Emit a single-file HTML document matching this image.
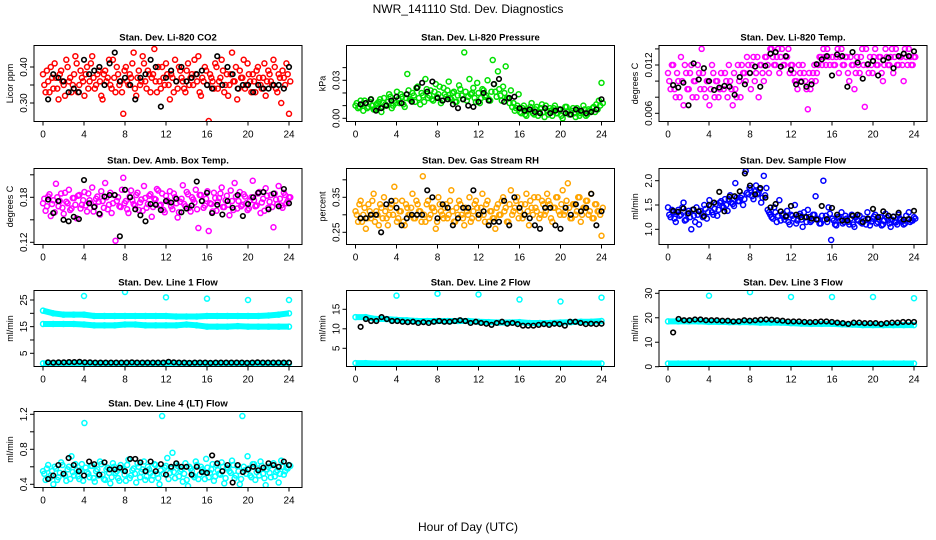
<!DOCTYPE html>
<html><head><meta charset="utf-8"><style>
body{margin:0;background:#fff}
svg{display:block;font-family:"Liberation Sans",sans-serif}
</style></head><body>
<svg id="c" width="936" height="540" viewBox="0 0 936 540">
<text x="468" y="13" font-size="12" text-anchor="middle">NWR_141110  Std. Dev. Diagnostics</text>
<text x="468" y="531" font-size="12" text-anchor="middle">Hour of Day (UTC)</text>
</svg>
<script>
const xTicks=[0,4,8,12,16,20,24];
const co2Vals=[0.38,0.33,0.36,0.40,0.34,0.37,0.31,0.39,0.35,0.42,0.36,0.33,0.38,0.41,0.35,0.37,0.32,0.40,0.36,0.43,0.34,0.38,0.36,0.31,0.39,0.37,0.35,0.42,0.33,0.38,0.36,0.27,0.40,0.35,0.37,0.44,0.32,0.39,0.36,0.41,0.34,0.38,0.37,0.45,0.33,0.36,0.40,0.35,0.38,0.31,0.37,0.42,0.34,0.39,0.36,0.33,0.41,0.37,0.35,0.38,0.43,0.32,0.36,0.39,0.25,0.37,0.34,0.40,0.36,0.42,0.33,0.38,0.35,0.44,0.36,0.31,0.39,0.37,0.34,0.41,0.36,0.38,0.33,0.40,0.35,0.37,0.32,0.39,0.36,0.42,0.34,0.38,0.30,0.37,0.41,0.27];
const co2ValsB=[0.35,0.39,0.33,0.37,0.41,0.34,0.38,0.36,0.32,0.40,0.37,0.35,0.43,0.33,0.39,0.36,0.38,0.34,0.41,0.37,0.35,0.39,0.32,0.38,0.36,0.42,0.34,0.37,0.40,0.35,0.33,0.39,0.36,0.38,0.41,0.34,0.37,0.35,0.43,0.36,0.39,0.33,0.38,0.36,0.40,0.34,0.37,0.41,0.35,0.38,0.33,0.36,0.40,0.37,0.34,0.39,0.35,0.38,0.42,0.36,0.33,0.37,0.40,0.35,0.38,0.36,0.41,0.34,0.37,0.39,0.35,0.32,0.38,0.36,0.40,0.34,0.37,0.42,0.35,0.38,0.33,0.36,0.39,0.37,0.34,0.41,0.36,0.38,0.35,0.40,0.33,0.37,0.39,0.35,0.38,0.36];
const co2Black=[0.31,0.38,0.37,0.36,0.33,0.34,0.33,0.42,0.38,0.39,0.40,0.35,0.41,0.44,0.36,0.37,0.35,0.31,0.37,0.38,0.42,0.40,0.29,0.37,0.39,0.36,0.40,0.36,0.37,0.38,0.39,0.35,0.34,0.43,0.35,0.40,0.38,0.34,0.35,0.35,0.33,0.35,0.34,0.34,0.35,0.35,0.34,0.40];
const presVals=[0.010,0.008,0.014,0.006,0.012,0.009,0.015,0.007,0.011,0.013,0.005,0.016,0.010,0.019,0.008,0.014,0.021,0.012,0.017,0.009,0.035,0.015,0.020,0.013,0.025,0.011,0.018,0.031,0.016,0.022,0.014,0.027,0.019,0.012,0.024,0.017,0.029,0.015,0.021,0.013,0.026,0.018,0.052,0.014,0.031,0.020,0.016,0.028,0.012,0.023,0.017,0.030,0.014,0.046,0.021,0.037,0.018,0.025,0.041,0.016,0.022,0.012,0.008,0.019,0.004,0.010,0.002,0.007,0.012,0.003,0.009,0.005,0.011,0.001,0.006,0.008,0.002,0.010,0.004,0.007,0.000,0.009,0.005,0.003,0.008,0.001,0.006,0.004,0.010,0.002,0.007,0.005,0.009,0.011,0.014,0.028];
const presValsB=[0.012,0.009,0.011,0.014,0.008,0.013,0.010,0.007,0.012,0.015,0.009,0.011,0.013,0.017,0.010,0.012,0.015,0.019,0.011,0.016,0.022,0.014,0.018,0.024,0.016,0.020,0.013,0.023,0.018,0.015,0.021,0.017,0.025,0.014,0.019,0.022,0.016,0.020,0.013,0.018,0.023,0.015,0.021,0.017,0.019,0.024,0.013,0.020,0.016,0.022,0.018,0.015,0.021,0.027,0.017,0.023,0.014,0.020,0.016,0.012,0.009,0.006,0.010,0.005,0.008,0.003,0.006,0.009,0.004,0.007,0.002,0.008,0.005,0.010,0.003,0.006,0.008,0.004,0.007,0.002,0.005,0.009,0.003,0.006,0.004,0.008,0.002,0.005,0.007,0.003,0.006,0.008,0.005,0.007,0.010,0.012];
const presBlack=[0.011,0.012,0.015,0.006,0.008,0.010,0.014,0.017,0.012,0.019,0.013,0.024,0.028,0.021,0.029,0.016,0.014,0.015,0.011,0.008,0.015,0.010,0.009,0.013,0.020,0.014,0.027,0.031,0.013,0.016,0.017,0.008,0.006,0.007,0.005,0.004,0.008,0.004,0.006,0.007,0.004,0.003,0.007,0.006,0.004,0.005,0.007,0.015];
const tempVals=[0.011,0.009,0.012,0.008,0.010,0.013,0.007,0.011,0.009,0.012,0.010,0.008,0.011,0.014,0.009,0.010,0.007,0.012,0.008,0.010,0.009,0.0045,0.011,0.008,0.010,0.007,0.009,0.012,0.008,0.011,0.010,0.012,0.009,0.013,0.011,0.008,0.012,0.010,0.013,0.011,0.014,0.012,0.013,0.011,0.014,0.012,0.013,0.011,0.012,0.010,0.009,0.011,0.012,0.010,0.0065,0.009,0.011,0.010,0.012,0.013,0.014,0.012,0.013,0.015,0.012,0.013,0.011,0.014,0.012,0.013,0.010,0.012,0.009,0.013,0.011,0.014,0.0068,0.012,0.013,0.011,0.014,0.012,0.013,0.010,0.014,0.012,0.013,0.011,0.014,0.012,0.013,0.010,0.013,0.014,0.012,0.013];
const tempValsB=[0.010,0.012,0.009,0.011,0.008,0.010,0.012,0.009,0.011,0.008,0.010,0.012,0.009,0.011,0.008,0.010,0.009,0.011,0.010,0.008,0.011,0.009,0.010,0.012,0.009,0.011,0.008,0.010,0.012,0.011,0.013,0.011,0.012,0.010,0.013,0.012,0.011,0.013,0.012,0.014,0.013,0.012,0.014,0.013,0.012,0.013,0.014,0.012,0.011,0.010,0.012,0.010,0.011,0.009,0.011,0.010,0.012,0.011,0.013,0.012,0.013,0.014,0.012,0.013,0.012,0.014,0.013,0.012,0.013,0.011,0.013,0.012,0.011,0.012,0.013,0.012,0.014,0.011,0.012,0.013,0.012,0.013,0.011,0.012,0.013,0.012,0.014,0.013,0.012,0.013,0.012,0.014,0.012,0.013,0.012,0.013];
const tempBlack=[0.0095,0.0092,0.0098,0.0070,0.0122,0.0102,0.0116,0.0100,0.0089,0.0092,0.0094,0.0093,0.0083,0.0105,0.0096,0.0110,0.0118,0.0093,0.0119,0.0134,0.0136,0.0118,0.0131,0.0114,0.0096,0.0099,0.0093,0.0096,0.0121,0.0127,0.0131,0.0107,0.0133,0.0131,0.0093,0.0136,0.0123,0.0103,0.0121,0.0125,0.0107,0.0126,0.0129,0.0116,0.0131,0.0134,0.0131,0.0137];
const ambVals=[0.172,0.162,0.181,0.155,0.176,0.198,0.168,0.185,0.158,0.174,0.190,0.165,0.179,0.152,0.183,0.170,0.187,0.161,0.176,0.193,0.168,0.181,0.157,0.175,0.199,0.164,0.186,0.172,0.122,0.180,0.167,0.206,0.175,0.159,0.189,0.171,0.183,0.163,0.177,0.195,0.166,0.182,0.154,0.178,0.191,0.169,0.185,0.160,0.176,0.188,0.164,0.180,0.153,0.174,0.196,0.168,0.184,0.161,0.177,0.190,0.139,0.183,0.166,0.178,0.135,0.171,0.186,0.162,0.179,0.193,0.167,0.182,0.156,0.175,0.199,0.165,0.187,0.170,0.181,0.163,0.176,0.202,0.168,0.185,0.159,0.178,0.192,0.166,0.183,0.140,0.177,0.195,0.169,0.186,0.172,0.180];
const ambValsB=[0.178,0.168,0.184,0.171,0.160,0.180,0.175,0.166,0.186,0.172,0.163,0.179,0.170,0.182,0.165,0.176,0.169,0.185,0.172,0.161,0.178,0.174,0.188,0.166,0.180,0.170,0.159,0.183,0.175,0.168,0.190,0.172,0.164,0.181,0.176,0.169,0.186,0.173,0.162,0.179,0.171,0.184,0.167,0.177,0.189,0.170,0.163,0.182,0.174,0.168,0.185,0.172,0.160,0.178,0.171,0.187,0.166,0.180,0.173,0.164,0.183,0.175,0.169,0.188,0.172,0.161,0.179,0.174,0.185,0.167,0.176,0.170,0.189,0.163,0.181,0.175,0.168,0.184,0.172,0.165,0.180,0.176,0.169,0.187,0.173,0.162,0.182,0.174,0.167,0.185,0.171,0.178,0.166,0.183,0.175,0.180];
const ambBlack=[0.177,0.159,0.175,0.150,0.148,0.154,0.151,0.203,0.172,0.167,0.158,0.181,0.183,0.183,0.128,0.190,0.180,0.164,0.156,0.148,0.171,0.170,0.163,0.175,0.173,0.178,0.160,0.165,0.169,0.201,0.175,0.186,0.159,0.170,0.157,0.175,0.166,0.183,0.155,0.171,0.180,0.186,0.187,0.164,0.185,0.168,0.191,0.172];
const rhVals=[0.31,0.28,0.34,0.30,0.26,0.33,0.29,0.36,0.31,0.27,0.32,0.35,0.29,0.30,0.33,0.38,0.28,0.31,0.34,0.27,0.32,0.30,0.36,0.29,0.33,0.31,0.41,0.28,0.34,0.30,0.32,0.26,0.35,0.31,0.29,0.33,0.30,0.37,0.28,0.32,0.34,0.30,0.27,0.31,0.35,0.29,0.33,0.32,0.30,0.36,0.28,0.34,0.31,0.29,0.26,0.33,0.30,0.35,0.32,0.28,0.37,0.31,0.34,0.29,0.33,0.30,0.36,0.27,0.32,0.35,0.31,0.29,0.34,0.30,0.36,0.33,0.28,0.32,0.35,0.30,0.37,0.31,0.39,0.29,0.33,0.30,0.35,0.28,0.32,0.34,0.30,0.36,0.29,0.33,0.31,0.24];
const rhValsB=[0.30,0.33,0.28,0.32,0.29,0.31,0.34,0.28,0.30,0.33,0.29,0.31,0.27,0.32,0.30,0.34,0.29,0.31,0.28,0.33,0.30,0.32,0.29,0.34,0.31,0.28,0.30,0.33,0.29,0.32,0.31,0.28,0.33,0.30,0.32,0.29,0.34,0.31,0.28,0.30,0.33,0.29,0.32,0.30,0.28,0.31,0.34,0.29,0.32,0.30,0.33,0.28,0.31,0.29,0.32,0.30,0.34,0.31,0.28,0.33,0.30,0.32,0.35,0.31,0.29,0.33,0.31,0.34,0.30,0.32,0.35,0.30,0.33,0.31,0.34,0.29,0.32,0.35,0.31,0.33,0.30,0.34,0.32,0.29,0.33,0.31,0.35,0.30,0.32,0.34,0.31,0.29,0.33,0.31,0.30,0.32];
const rhBlack=[0.29,0.29,0.30,0.30,0.25,0.33,0.34,0.32,0.27,0.29,0.30,0.30,0.30,0.37,0.35,0.29,0.33,0.32,0.27,0.29,0.32,0.32,0.37,0.30,0.31,0.27,0.28,0.28,0.34,0.27,0.35,0.32,0.30,0.29,0.27,0.26,0.32,0.32,0.27,0.26,0.32,0.30,0.33,0.31,0.32,0.36,0.27,0.31];
const flowVals=[1.45,1.25,1.35,1.15,1.40,1.30,1.55,1.20,1.38,1.00,1.28,1.45,1.10,1.32,1.50,1.22,1.60,1.35,1.42,1.28,1.55,1.48,1.62,1.38,1.70,1.52,1.95,1.58,1.65,1.50,2.20,1.72,1.80,1.62,1.90,1.75,1.55,2.10,1.85,1.35,1.25,1.45,1.15,1.60,1.30,1.20,1.38,1.10,1.28,1.50,1.18,1.32,1.05,1.25,1.40,1.15,1.30,1.68,1.20,1.12,2.00,1.28,1.45,0.78,1.18,1.08,1.25,1.35,1.15,1.22,1.10,1.30,1.05,1.20,1.28,1.12,1.18,1.35,1.08,1.22,1.30,1.15,1.25,1.10,1.32,1.18,1.05,1.26,1.14,1.30,1.20,1.10,1.28,1.35,1.18,1.25];
const flowValsB=[1.30,1.40,1.22,1.35,1.28,1.45,1.18,1.32,1.25,1.40,1.15,1.30,1.38,1.25,1.42,1.35,1.48,1.30,1.52,1.40,1.58,1.45,1.50,1.62,1.55,1.48,1.65,1.58,1.70,1.62,1.75,1.85,1.68,1.78,1.72,1.82,1.65,1.70,1.40,1.30,1.22,1.35,1.28,1.18,1.32,1.25,1.15,1.30,1.22,1.12,1.28,1.20,1.35,1.15,1.25,1.18,1.30,1.22,1.12,1.28,1.20,1.15,1.32,1.22,1.10,1.25,1.18,1.12,1.28,1.15,1.22,1.10,1.25,1.18,1.14,1.22,1.10,1.20,1.16,1.26,1.12,1.20,1.08,1.18,1.24,1.12,1.20,1.15,1.10,1.22,1.16,1.12,1.20,1.15,1.18,1.22];
const flowBlack=[1.38,1.36,1.43,1.33,1.41,1.37,1.27,1.50,1.55,1.77,1.37,1.67,1.68,1.78,2.15,1.90,1.72,1.85,1.65,1.45,1.52,1.37,1.27,1.48,1.30,1.25,1.25,1.22,1.20,1.48,1.21,1.44,1.30,1.18,1.18,1.28,1.30,1.15,1.22,1.42,1.25,1.37,1.28,1.26,1.34,1.20,1.21,1.38];
const spikeHours=[4,8,12,16,20,24];
const line1Upper=[21,20,19.5,19.5,19.5,19,19,19,19,19,19,19,19,18.8,18.8,18.8,19,19,19,19,19,19,19.2,19.5,20];
const line1Lower=[16,16,16,16,15.8,15.5,15.5,15.5,15.8,15.8,15.5,15.5,15.5,15.5,15.8,15.5,15,15,15,15.2,15,15,15,15,15];
const line1Base=[1.2,1.2,1.2,1.2,1.2,1.2,1.2,1.2,1.2,1.2,1.2,1.2,1.2,1.2,1.2,1.2,1.2,1.2,1.2,1.2,1.2,1.2,1.2,1.2,1.2];
const line1Spikes=[26.5,28,26,25.5,25,25];
const line1Black=[1.6,1.5,1.6,1.6,1.7,1.7,1.8,1.6,1.6,1.5,1.5,1.5,1.5,1.5,1.5,1.5,1.6,1.5,1.5,1.5,1.5,1.5,1.5,1.8,1.6,1.5,1.5,1.4,1.5,1.5,1.5,1.4,1.5,1.5,1.5,1.5,1.5,1.5,1.4,1.5,1.6,1.5,1.5,1.5,1.5,1.5,1.5];
const line2Band=[13,13,12.5,12.5,12.3,12.2,12,12,12,12,12,12,11.8,11.7,11.6,11.6,11.7,11.5,11.5,11.5,11.6,11.7,11.8,11.8,12];
const line2Base=[1.2,1.2,1.1,1.1,1.1,1.1,1.1,1.1,1.1,1.1,1.1,1.1,1.1,1.1,1.1,1.1,1.1,1.1,1.1,1.1,1.1,1.1,1.1,1.1,1.1];
const line2Spikes=[18.5,19,18.8,17.5,17,18];
const line2Black=[10.5,12.5,12,12,13,12.5,12,12,11.8,11.7,11.8,11.5,11.7,11.5,11.8,12,11.8,11.8,12,12.2,12,11.5,11.8,11.5,11.3,11,11.5,11.8,11.3,11.5,11.2,10.8,10.8,10.8,11,11.2,11,11.3,11.2,10.8,11.8,11.8,11.5,11.2,11.3,11.2,11.3];
const line3Band=[18.5,18.5,18.5,18.5,18.3,18.3,18.2,18.2,18.2,18,18,18,17.8,17.6,17.5,17.5,17.5,17.3,17.2,17,17,17,17,17,17];
const line3Base=[1.3,1.3,1.3,1.3,1.3,1.3,1.3,1.3,1.3,1.3,1.3,1.3,1.3,1.3,1.3,1.3,1.3,1.3,1.3,1.3,1.3,1.3,1.3,1.3,1.3];
const line3Spikes=[29,30.5,28.5,28.5,28.5,28];
const line3Black=[14,19.5,19,19,19.3,19.3,19,19,19,18.8,18.8,18.5,18.6,19,18.8,19,19.2,19.3,19.2,19,18.8,18.5,18.5,18.5,18.3,18.2,18.3,18.5,18.5,18.3,18,17.8,17.5,18,18,17.8,17.8,17.8,17.5,17.8,18,18,18.3,18.3,18.3];
const line4Vals=[0.55,0.45,0.62,0.50,0.40,0.58,0.48,0.65,0.52,0.44,0.60,0.72,0.50,0.56,0.46,0.63,1.10,0.54,0.48,0.61,0.43,0.57,0.66,0.51,0.45,0.59,0.41,0.64,0.53,0.47,0.62,0.56,0.44,0.68,0.50,0.58,0.42,0.60,0.54,0.66,0.49,0.57,0.45,0.63,0.52,0.40,1.18,0.59,0.70,0.53,0.76,0.47,0.61,0.55,0.43,0.64,0.38,0.58,0.50,0.66,0.46,0.60,0.54,0.69,0.48,0.57,0.44,0.62,0.52,0.65,0.41,0.59,0.55,0.67,0.47,0.61,0.40,1.18,0.56,0.72,0.50,0.63,0.45,0.58,0.66,0.52,0.39,0.60,0.48,0.64,0.54,0.42,0.67,0.51,0.59,0.62];
const line4ValsB=[0.52,0.58,0.47,0.55,0.60,0.45,0.53,0.62,0.50,0.57,0.46,0.54,0.63,0.49,0.56,0.44,0.59,0.52,0.61,0.47,0.55,0.50,0.63,0.46,0.57,0.53,0.48,0.60,0.55,0.44,0.58,0.51,0.62,0.47,0.56,0.52,0.64,0.48,0.57,0.45,0.60,0.53,0.50,0.62,0.47,0.56,0.52,0.61,0.46,0.58,0.54,0.63,0.49,0.57,0.52,0.45,0.60,0.55,0.48,0.62,0.51,0.57,0.46,0.59,0.53,0.63,0.49,0.56,0.51,0.60,0.47,0.58,0.53,0.62,0.50,0.55,0.46,0.60,0.52,0.58,0.48,0.63,0.54,0.50,0.61,0.47,0.57,0.53,0.62,0.49,0.56,0.52,0.60,0.55,0.58,0.61];
const line4Black=[0.46,0.50,0.62,0.52,0.70,0.62,0.55,0.50,0.66,0.63,0.51,0.65,0.57,0.57,0.59,0.55,0.69,0.69,0.65,0.55,0.66,0.55,0.63,0.51,0.60,0.64,0.60,0.60,0.51,0.60,0.54,0.53,0.73,0.64,0.55,0.62,0.42,0.62,0.54,0.57,0.60,0.56,0.59,0.64,0.62,0.60,0.66,0.62];

const NS='http://www.w3.org/2000/svg';
const svg=document.getElementById('c');
const rowTop=[45.5,168.5,290.5,411.5];
function mk(tag,parent){const e=document.createElementNS(NS,tag);parent.appendChild(e);return e;}

const panels=[
 {r:0,c:0,title:'Stan. Dev. Li-820 CO2',ylab:'Licor ppm',v:[0.30,0.40],p:[103,67],ticks:[0.30,0.35,0.40],labs:['0.30','','0.40'],col:'#ff0000',cloud:co2Vals,cloudB:co2ValsB,black:co2Black},
 {r:0,c:1,title:'Stan. Dev. Li-820 Pressure',ylab:'kPa',v:[0,0.03],p:[118.3,80.3],ticks:[0,0.01,0.02,0.03,0.04],labs:['0.00','','','0.03',''],col:'#00e000',cloud:presVals,cloudB:presValsB,black:presBlack},
 {r:0,c:2,title:'Stan. Dev. Li-820 Temp.',ylab:'degrees C',v:[0.006,0.012],p:[113.3,65],ticks:[0.006,0.008,0.010,0.012,0.014],labs:['0.006','','','0.012',''],col:'#ff00ff',cloud:tempVals,cloudB:tempValsB,black:tempBlack},
 {r:1,c:0,title:'Stan. Dev. Amb. Box Temp.',ylab:'degrees C',v:[0.12,0.18],p:[242.3,197.3],ticks:[0.12,0.15,0.18,0.21],labs:['0.12','','0.18',''],col:'#ff00ff',cloud:ambVals,cloudB:ambValsB,black:ambBlack},
 {r:1,c:1,title:'Stan. Dev. Gas Stream RH',ylab:'percent',v:[0.25,0.35],p:[232.3,197.3],ticks:[0.25,0.30,0.35,0.40],labs:['0.25','','0.35',''],col:'#ffa500',cloud:rhVals,cloudB:rhValsB,black:rhBlack},
 {r:1,c:2,title:'Stan. Dev. Sample Flow',ylab:'ml/min',v:[1,2],p:[229.3,180.7],ticks:[1,1.5,2],labs:['1.0','1.5','2.0'],col:'#0000ff',cloud:flowVals,cloudB:flowValsB,black:flowBlack},
 {r:2,c:0,title:'Stan. Dev. Line 1 Flow',ylab:'ml/min',v:[5,25],p:[353.3,300],ticks:[5,10,15,20,25],labs:['5','','15','','25'],col:'#00ffff',bands:[line1Upper,line1Lower,line1Base],spikes:line1Spikes,black:line1Black},
 {r:2,c:1,title:'Stan. Dev. Line 2 Flow',ylab:'ml/min',v:[5,15],p:[348.3,309.3],ticks:[5,10,15],labs:['5','10','15'],col:'#00ffff',bands:[line2Band,line2Base],spikes:line2Spikes,black:line2Black},
 {r:2,c:2,title:'Stan. Dev. Line 3 Flow',ylab:'ml/min',v:[0,30],p:[366.7,293.3],ticks:[0,10,20,30],labs:['0','10','20','30'],col:'#00ffff',bands:[line3Band,line3Base],spikes:line3Spikes,black:line3Black},
 {r:3,c:0,title:'Stan. Dev. Line 4 (LT) Flow',ylab:'ml/min',v:[0.4,1.2],p:[484.3,414.3],ticks:[0.4,0.6,0.8,1.0,1.2],labs:['0.4','','0.8','','1.2'],col:'#00ffff',cloud:line4Vals,cloudB:line4ValsB,black:line4Black}
];

panels.forEach((P,pi)=>{
 const g=mk('g',svg);
 
 
 const bl=34+P.c*312.5, bt=rowTop[P.r], bw=268, bh=76;
 const xs=h=>43+P.c*312.5+h*10.25;
 const ys=v=>P.p[0]+(v-P.v[0])*(P.p[1]-P.p[0])/(P.v[1]-P.v[0]);
 const t=mk('text',g);t.textContent=P.title;
 
 
 t.setAttribute('x',bl+bw/2);t.setAttribute('y',bt-5);t.setAttribute('font-size','9.5');t.setAttribute('font-weight','bold');t.setAttribute('text-anchor','middle');
 const xa=mk('line',g);
 
 
 xa.setAttribute('x1',xs(0));xa.setAttribute('x2',xs(24));xa.setAttribute('y1',bt+bh);xa.setAttribute('y2',bt+bh);xa.setAttribute('stroke','#000');
 xTicks.forEach(h=>{
  const l=mk('line',g);
  
  
  l.setAttribute('x1',xs(h));l.setAttribute('x2',xs(h));l.setAttribute('y1',bt+bh);l.setAttribute('y2',bt+bh+4);l.setAttribute('stroke','#000');
  const tx=mk('text',g);tx.textContent=h;
  
  
  tx.setAttribute('x',xs(h));tx.setAttribute('y',bt+bh+16);tx.setAttribute('font-size','10');tx.setAttribute('text-anchor','middle');
 });
 const ya=mk('line',g);
 
 
 ya.setAttribute('x1',bl);ya.setAttribute('x2',bl);ya.setAttribute('y1',Math.min(bt+bh,ys(P.ticks[0])));ya.setAttribute('y2',Math.max(bt,ys(P.ticks[P.ticks.length-1])));ya.setAttribute('stroke','#000');
 P.ticks.forEach((v,i)=>{
  const y=ys(v); if(y<bt-1||y>bt+bh+1) return;
  const l=mk('line',g);
  
  
  l.setAttribute('x1',bl-4);l.setAttribute('x2',bl);l.setAttribute('y1',y);l.setAttribute('y2',y);l.setAttribute('stroke','#000');
  if(P.labs[i]){const tx=mk('text',g);tx.textContent=P.labs[i];
   
   
   tx.setAttribute('transform','translate('+(bl-7)+','+y+') rotate(-90)');tx.setAttribute('font-size','10');tx.setAttribute('text-anchor','middle');}
 });
 const yl=mk('text',g);yl.textContent=P.ylab;
 
 
 yl.setAttribute('transform','translate('+(bl-21)+','+(bt+bh/2)+') rotate(-90)');yl.setAttribute('font-size','9');yl.setAttribute('text-anchor','middle');
 const cp=mk('clipPath',g);cp.setAttribute('id','cp'+pi);
 const cr=mk('rect',cp);cr.setAttribute('x',bl);cr.setAttribute('y',bt);cr.setAttribute('width',bw);cr.setAttribute('height',bh);
 const dg=mk('g',g);dg.setAttribute('clip-path','url(#cp'+pi+')');
 
 
 function dot(h,v,color,sw,r,name){
  const c=mk('circle',dg);
  
  
  c.setAttribute('cx',xs(h));c.setAttribute('cy',ys(v));c.setAttribute('r',r);c.setAttribute('fill','none');c.setAttribute('stroke',color);c.setAttribute('stroke-width',sw);
 }
 if(P.cloud){
  const n=P.cloud.length;
  P.cloud.forEach((v,i)=>dot(i*24/(n-1),v,P.col,1.5,2.5,'cloud-point'));
  P.cloudB.forEach((v,i)=>dot((i+0.5)*24/(n-1),v,P.col,1.5,2.5,'cloud-point'));
 }
 if(P.bands){
  P.bands.forEach(b=>{
   const pl=mk('polyline',dg);
   
   
   pl.setAttribute('points',b.map((v,i)=>xs(i*24/(b.length-1))+','+ys(v)).join(' '));
   pl.setAttribute('fill','none');pl.setAttribute('stroke',P.col);pl.setAttribute('stroke-width',6);
   b.forEach((v,i)=>dot(i*24/(b.length-1),v,P.col,1.5,2.5,'band-point'));
  });
  P.spikes.forEach((v,i)=>dot(spikeHours[i],v,P.col,1.5,2.5,'spike-point'));
 }
 P.black.forEach((v,i)=>dot(0.5+i*23.5/(P.black.length-1),v,'#000',1.6,2.3,'mean-point'));
 const box=mk('rect',g);
 
 
 box.setAttribute('x',bl);box.setAttribute('y',bt);box.setAttribute('width',bw);box.setAttribute('height',bh);box.setAttribute('fill','none');box.setAttribute('stroke','#000');
});
</script>
</body></html>
